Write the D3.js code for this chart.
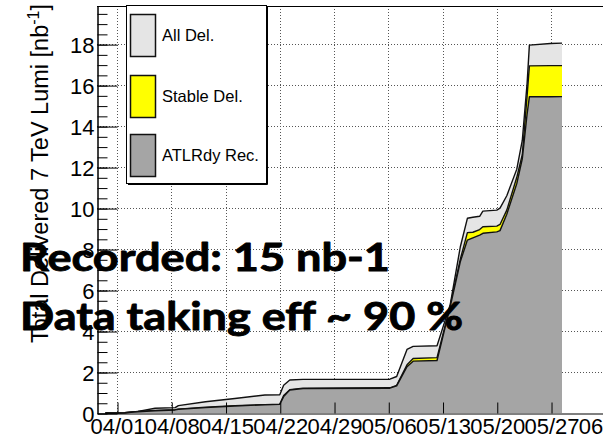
<!DOCTYPE html>
<html>
<head>
<meta charset="utf-8">
<script src="https://cdn.jsdelivr.net/npm/d3@7"></script>
<style>
  html, body { margin: 0; padding: 0; background: #ffffff; }
  svg { display: block; }
</style>
</head>
<body>
<svg id="chart" width="603" height="441"></svg>
<script>
// Cumulative integrated luminosity per time stamp (nb^-1)
const timeStamps = [
  "2010-03-30T12:00", "2010-04-02T00:00", "2010-04-03T17:00", "2010-04-05T22:00",
  "2010-04-08T12:00", "2010-04-08T22:00", "2010-04-12T10:00", "2010-04-16T05:00",
  "2010-04-20T02:00", "2010-04-22T00:00", "2010-04-22T12:00", "2010-04-23T07:00",
  "2010-04-25T00:00", "2010-05-06T05:00", "2010-05-07T02:00", "2010-05-08T10:00",
  "2010-05-09T05:00", "2010-05-12T07:00", "2010-05-14T00:00", "2010-05-15T07:00",
  "2010-05-16T05:00", "2010-05-16T22:00", "2010-05-17T19:00", "2010-05-18T05:00",
  "2010-05-20T00:00", "2010-05-20T10:00", "2010-05-21T07:00", "2010-05-22T14:00",
  "2010-05-23T07:00", "2010-05-23T22:00", "2010-05-24T05:00", "2010-05-26T22:00",
  "2010-05-28T10:00"
];
const allDelivered = [
  0, 0.02, 0.08, 0.23, 0.26, 0.36, 0.55, 0.71, 0.88, 0.89, 1.35, 1.61,
  1.64, 1.65, 1.78, 3.10, 3.25, 3.28, 5.30, 8.10, 9.50, 9.55, 9.60, 9.85,
  9.90, 10.0, 10.6, 11.9, 13.3, 16.1, 17.95, 18.03, 18.05
];
const stableDelivered = [
  0, 0.01, 0.07, 0.12, 0.16, 0.19, 0.28, 0.36, 0.41, 0.43, 0.85, 1.14,
  1.21, 1.23, 1.35, 2.35, 2.66, 2.70, 5.25, 7.50, 8.80, 8.82, 8.95, 9.09,
  9.12, 9.20, 9.90, 11.5, 12.6, 15.5, 16.94, 16.95, 16.95
];
const readyRecorded = [
  0, 0.01, 0.06, 0.11, 0.15, 0.18, 0.26, 0.34, 0.40, 0.42, 0.80, 1.12,
  1.19, 1.21, 1.32, 2.26, 2.53, 2.56, 5.20, 7.38, 8.44, 8.55, 8.68, 8.77,
  8.84, 8.90, 9.70, 11.2, 12.4, 14.6, 15.43, 15.43, 15.44
];

const xTickDates = ["2010-04-01", "2010-04-08", "2010-04-15", "2010-04-22", "2010-04-29",
                    "2010-05-06", "2010-05-13", "2010-05-20", "2010-05-27", "2010-06-03"];
const xTickLabels = ["04/01", "04/08", "04/15", "04/22", "04/29",
                     "05/06", "05/13", "05/20", "05/27", "06/03"];
const yTicks = [0, 2, 4, 6, 8, 10, 12, 14, 16, 18];
const yMinorTicks = d3.range(0, 19.6, 0.5);

const seriesNames = ["All Del.", "Stable Del.", "ATLRdy Rec."];
const seriesColors = ["#e5e5e5", "#ffff00", "#a5a5a5"];
const overlayLines = ["Recorded: 15 nb-1", "Data taking eff ~ 90 %"];

const parse = s => new Date(s + "Z");
const svg = d3.select("#chart");

const plot = { left: 97, top: 6, bottom: 413 };
const pxPerDay = 7.75;
const xStart = parse("2010-03-29T10:00");
const xEnd = parse("2010-06-05T00:00");
const x = d3.scaleUtc()
  .domain([xStart, xEnd])
  .range([plot.left, plot.left + (xEnd - xStart) / 864e5 * pxPerDay]);
const y = d3.scaleLinear().domain([0, 19.86]).range([plot.bottom, plot.top]);

// grid
const grid = svg.append("g").attr("stroke", "#555").attr("stroke-width", 1)
  .attr("stroke-dasharray", "1,2");
grid.selectAll(".gx").data(xTickDates).join("line")
  .attr("x1", d => Math.round(x(parse(d + "T00:00"))) + 0.5)
  .attr("x2", d => Math.round(x(parse(d + "T00:00"))) + 0.5)
  .attr("y1", plot.top).attr("y2", plot.bottom);
grid.selectAll(".gy").data(yTicks.slice(1)).join("line")
  .attr("x1", plot.left).attr("x2", 603)
  .attr("y1", d => Math.round(y(d)) + 0.5).attr("y2", d => Math.round(y(d)) + 0.5);

// stacked cumulative curves, drawn back to front
const rows = timeStamps.map((t, i) => ({
  t: parse(t), v: [allDelivered[i], stableDelivered[i], readyRecorded[i]]
}));
[0, 1, 2].forEach(k => {
  const area = d3.area().x(d => x(d.t)).y0(y(0)).y1(d => y(d.v[k]));
  const line = d3.line().x(d => x(d.t)).y(d => y(d.v[k]));
  svg.append("path").datum(rows).attr("d", area).attr("fill", seriesColors[k]);
  svg.append("path").datum(rows).attr("d", line).attr("fill", "none")
    .attr("stroke", "#111").attr("stroke-width", 1.4).attr("stroke-linejoin", "round");
});

// axes
const font = "'Liberation Sans', Arial, sans-serif";
const yMinor = svg.append("g").attr("transform", `translate(${plot.left + 0.5},0.5)`)
  .call(d3.axisLeft(y).tickValues(yMinorTicks).tickSize(-10).tickSizeOuter(0).tickFormat(""));
const yAxis = svg.append("g").attr("transform", `translate(${plot.left + 0.5},0.5)`)
  .call(d3.axisLeft(y).tickValues(yTicks).tickSize(-20).tickSizeOuter(0).tickPadding(3));
yAxis.selectAll("text").attr("font-family", font).attr("font-size", 22).attr("fill", "#000")
  .attr("dy", "0.36em");
const xAxis = svg.append("g").attr("transform", `translate(0.5,${plot.bottom + 0.5})`)
  .call(d3.axisBottom(x).tickValues(xTickDates.map(d => parse(d + "T00:00")))
    .tickSize(-11).tickSizeOuter(0).tickPadding(5)
    .tickFormat((d, i) => xTickLabels[i]));
xAxis.selectAll("text").attr("font-family", font).attr("font-size", 22).attr("fill", "#000");
[yMinor, yAxis, xAxis].forEach(g => g.selectAll("line,path").attr("stroke", "#000"));

// top frame edge
svg.append("line").attr("x1", plot.left).attr("x2", 603)
  .attr("y1", plot.top + 0.5).attr("y2", plot.top + 0.5).attr("stroke", "#000");

// y-axis title
const title = svg.append("text")
  .attr("transform", "translate(48,4) rotate(-90)")
  .attr("text-anchor", "end").attr("font-family", font).attr("font-size", 23.5).attr("fill", "#000");
title.append("tspan").text("Total Delivered 7 TeV Lumi [nb");
title.append("tspan").attr("font-size", 16).attr("dy", -9).text("-1");
title.append("tspan").attr("dy", 9).text("]");

// legend
const legend = svg.append("g");
legend.append("rect").attr("x", 126.5).attr("y", 5.5).attr("width", 140).attr("height", 178)
  .attr("fill", "#fff").attr("stroke", "#000").attr("stroke-width", 1);
legend.append("path").attr("d", "M267.5,7V184.5H128").attr("fill", "none")
  .attr("stroke", "#000").attr("stroke-width", 1);
const entryTop = [14, 75, 134];
seriesNames.forEach((name, k) => {
  legend.append("rect").attr("x", 130.5).attr("y", entryTop[k] + 0.5)
    .attr("width", 25).attr("height", 42)
    .attr("fill", seriesColors[k]).attr("stroke", "#111").attr("stroke-width", 1.5);
  legend.append("text").attr("x", 162).attr("y", entryTop[k] + 27)
    .attr("font-family", font).attr("font-size", 16.5).attr("fill", "#000").text(name);
});

// overlay annotation
const overlay = svg.append("g").attr("font-family", "Lato, 'Open Sans', sans-serif")
  .attr("font-weight", 700).attr("font-size", 39).attr("fill", "#000")
  .attr("stroke", "#000").attr("stroke-width", 0.9).attr("stroke-linejoin", "round");
const overlayWidths = [370, 443];
const overlayBase = [271, 330];
overlayLines.forEach((s, i) => {
  overlay.append("text").attr("x", 20).attr("y", overlayBase[i])
    .attr("textLength", overlayWidths[i]).attr("lengthAdjust", "spacingAndGlyphs").text(s);
});
</script>
</body>
</html>
